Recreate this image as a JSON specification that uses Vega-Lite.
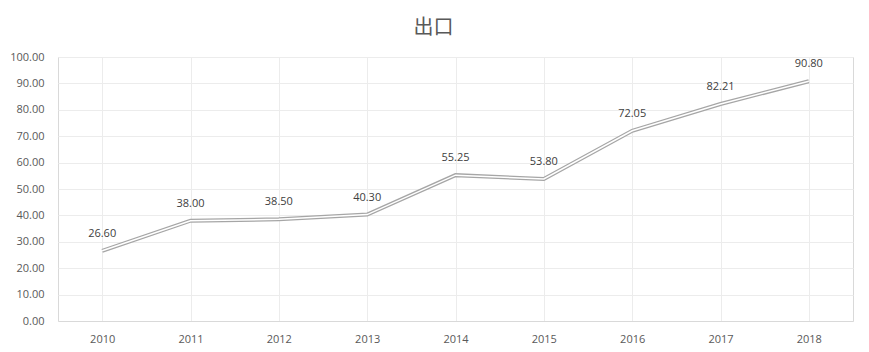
{
  "$schema": "https://vega.github.io/schema/vega-lite/v6.json",
  "width": 795,
  "height": 264,
  "autosize": {"type": "none"},
  "padding": {"left": 58, "top": 57, "right": 16, "bottom": 31},
  "background": "white",
  "title": {"text": "出口", "fontSize": 20, "font": "Noto Sans CJK SC", "fontWeight": "normal", "color": "#595959", "anchor": "middle", "dx": -22, "offset": 13},
  "config": {
    "view": {"stroke": "#d9d9d9"},
    "font": "Open Sans"
  },
  "data": {"values": [
    {"year": "2010", "value": 26.60},
    {"year": "2011", "value": 38.00},
    {"year": "2012", "value": 38.50},
    {"year": "2013", "value": 40.30},
    {"year": "2014", "value": 55.25},
    {"year": "2015", "value": 53.80},
    {"year": "2016", "value": 72.05},
    {"year": "2017", "value": 82.21},
    {"year": "2018", "value": 90.80}
  ]},
  "encoding": {
    "x": {"field": "year", "type": "ordinal", "scale": {"paddingInner": 0, "paddingOuter": 0},
      "axis": {"title": null, "labelAngle": 0, "labelColor": "#595959", "labelFontSize": 11, "domain": true, "domainColor": "#d9d9d9", "ticks": false, "grid": true, "gridColor": "#ececec", "bandPosition": 0, "labelPadding": 12}},
    "y": {"field": "value", "type": "quantitative", "scale": {"domain": [0, 100]},
      "axis": {"title": null, "values": [0,10,20,30,40,50,60,70,80,90,100], "labelOverlap": false, "format": ".2f", "labelColor": "#595959", "labelFontSize": 11, "domain": false, "ticks": false, "gridColor": "#ececec", "labelPadding": 14}}
  },
  "layer": [
    {"mark": {"type": "line", "color": "#a6a6a6", "strokeWidth": 4}},
    {"mark": {"type": "line", "color": "#ffffff", "strokeWidth": 1.5}},
    {"mark": {"type": "text", "dy": -17, "fontSize": 11, "color": "#404040"}, "encoding": {"text": {"field": "value", "type": "quantitative", "format": ".2f"}}}
  ]
}
